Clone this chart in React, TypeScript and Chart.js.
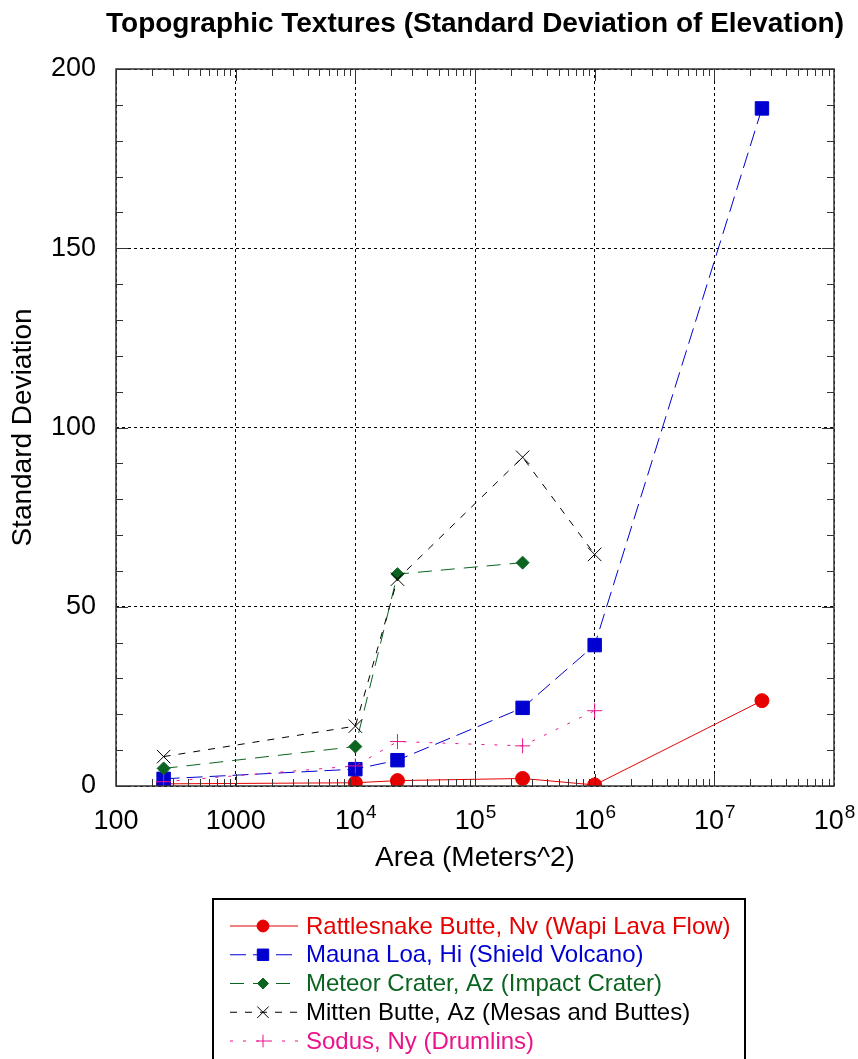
import React, { useEffect, useRef } from 'react';
import { Chart, registerables } from 'chart.js';
import { drawPoint } from 'chart.js/helpers';

Chart.register(...registerables);

const FONT = '"Liberation Sans", Arial, Helvetica, sans-serif';

// ---- data ----
const areas = [250, 1e4, 22500, 250000, 1e6, 2.5e7];
const rattlesnake = [0.6, 0.9, 1.5, 2.1, 0.3, 23.8];
const maunaLoa = [2.0, 4.7, 7.2, 21.8, 39.3, 189];
const meteorCrater = [4.9, 11.0, 59.1, 62.3, null, null];
const mittenButte = [8.2, 16.7, 57.7, 91.7, 64.6, null];
const sodus = [1.2, 5.6, 12.4, 11.2, 21.0, null];

const seriesLabels = [
  'Rattlesnake Butte, Nv (Wapi Lava Flow)',
  'Mauna Loa, Hi (Shield Volcano)',
  'Meteor Crater, Az (Impact Crater)',
  'Mitten Butte, Az (Mesas and Buttes)',
  'Sodus, Ny (Drumlins)',
];
const seriesValues = [rattlesnake, maunaLoa, meteorCrater, mittenButte, sodus];

const xTickValues = [100, 1000, 1e4, 1e5, 1e6, 1e7, 1e8];
const yTickStep = 50;
const yMinorStep = 10;

const titleText = 'Topographic Textures (Standard Deviation of Elevation)';
const xTitle = 'Area (Meters^2)';
const yTitle = 'Standard Deviation';

// ---- styles ----
const seriesStyles = [
  { color: '#e60000', dash: [], pointStyle: 'circle', radius: 7 },
  { color: '#0000d0', dash: [16, 7], pointStyle: 'rect', radius: 9.5 },
  { color: '#0b6420', dash: [14, 9], pointStyle: 'rectRot', radius: 6.5 },
  { color: '#000000', dash: [7, 8], pointStyle: 'crossRot', radius: 9.5 },
  { color: '#ec138a', dash: [3, 10], pointStyle: 'cross', radius: 7.5 },
];

const framePlugin = {
  id: 'frame',
  afterDatasetsDraw(chart: any) {
    const { ctx, chartArea: a, scales } = chart;
    const xs = scales.x;
    const ys = scales.y;
    ctx.save();
    ctx.setLineDash([]);
    ctx.strokeStyle = '#333';
    ctx.lineWidth = 1;
    ctx.beginPath();
    for (let e = 2; e < 8; e++) {
      for (let m = 1; m <= 9; m++) {
        const v = m * Math.pow(10, e);
        const px = Math.round(xs.getPixelForValue(v)) + 0.5;
        const len = m === 1 ? 12 : 7;
        ctx.moveTo(px, a.bottom);
        ctx.lineTo(px, a.bottom - len);
        ctx.moveTo(px, a.top);
        ctx.lineTo(px, a.top + len);
      }
    }
    for (let v = ys.min; v <= ys.max; v += yMinorStep) {
      const py = Math.round(ys.getPixelForValue(v)) + 0.5;
      const len = v % yTickStep === 0 ? 12 : 7;
      ctx.moveTo(a.left, py);
      ctx.lineTo(a.left + len, py);
      ctx.moveTo(a.right, py);
      ctx.lineTo(a.right - len, py);
    }
    ctx.stroke();
    ctx.lineWidth = 1.5;
    ctx.strokeRect(a.left, a.top, a.right - a.left, a.bottom - a.top);
    ctx.restore();
  },
  afterDraw(chart: any) {
    const { ctx, chartArea: a, scales } = chart;
    const xs = scales.x;
    ctx.save();
    // title
    ctx.fillStyle = '#000';
    ctx.font = `bold 28px ${FONT}`;
    ctx.textAlign = 'center';
    ctx.textBaseline = 'middle';
    ctx.fillText(titleText, (a.left + a.right) / 2, 24);

    // x tick labels with superscripts
    const baseY = a.bottom + 43;
    ctx.textBaseline = 'alphabetic';
    ctx.textAlign = 'left';
    for (const v of xTickValues) {
      const px = xs.getPixelForValue(v);
      const exp = Math.round(Math.log10(v));
      if (exp <= 3) {
        ctx.font = `27px ${FONT}`;
        const w = ctx.measureText(String(v)).width;
        ctx.fillText(String(v), px - w / 2, baseY);
      } else {
        ctx.font = `27px ${FONT}`;
        const w1 = ctx.measureText('10').width;
        ctx.font = `19px ${FONT}`;
        const sup = String(exp);
        const w2 = ctx.measureText(sup).width;
        const start = px - (w1 + w2) / 2;
        ctx.font = `27px ${FONT}`;
        ctx.fillText('10', start, baseY);
        ctx.font = `19px ${FONT}`;
        ctx.fillText(sup, start + w1 + 1, baseY - 11);
      }
    }

    // legend
    const lx = 213;
    const ly = 899;
    const lw = 532;
    ctx.strokeStyle = '#000';
    ctx.lineWidth = 2;
    ctx.setLineDash([]);
    ctx.strokeRect(lx, ly, lw, chart.height - ly + 20);
    chart.data.datasets.forEach((ds: any, i: number) => {
      const y = 926 + i * 28.75;
      const st = seriesStyles[i];
      ctx.strokeStyle = st.color;
      ctx.fillStyle = st.color;
      ctx.lineWidth = 1;
      ctx.setLineDash(st.dash);
      ctx.beginPath();
      ctx.moveTo(230, y);
      ctx.lineTo(298, y);
      ctx.stroke();
      ctx.setLineDash([]);
      drawPoint(ctx, { pointStyle: st.pointStyle, radius: st.radius * 0.85, borderWidth: 1, rotation: 0 } as any, 263, y);
      ctx.fillStyle = st.color;
      ctx.font = `24px ${FONT}`;
      ctx.textAlign = 'left';
      ctx.textBaseline = 'middle';
      ctx.fillText(ds.label, 306, y + 1);
    });
    ctx.restore();
  },
};

export default function App() {
  const ref = useRef<HTMLCanvasElement | null>(null);
  useEffect(() => {
    document.body.style.margin = '0';
    const canvas = ref.current;
    if (!canvas) return;
    Chart.defaults.color = '#000';
    const datasets = seriesValues.map((vals, i) => {
      const st = seriesStyles[i];
      const pts = areas
        .map((a, j) => ({ x: a, y: vals[j] }))
        .filter((p) => p.y !== null && p.y !== undefined);
      return {
        label: seriesLabels[i],
        data: pts,
        borderColor: st.color,
        backgroundColor: st.color,
        borderWidth: 1,
        borderDash: st.dash,
        pointStyle: st.pointStyle,
        pointRadius: st.radius,
        pointBackgroundColor: st.color,
        pointBorderColor: st.color,
        pointBorderWidth: 1,
        tension: 0,
        fill: false,
        order: seriesValues.length - 1 - i,
      };
    });
    const chart = new Chart(canvas, {
      type: 'line',
      data: { datasets },
      plugins: [framePlugin],
      options: {
        animation: false,
        responsive: false,
        devicePixelRatio: 1,
        layout: { padding: { left: 0, right: 24, top: 69, bottom: 179 } },
        plugins: {
          legend: { display: false },
          title: { display: false },
          tooltip: { enabled: false },
        },
        scales: {
          x: {
            type: 'logarithmic',
            min: 100,
            max: 1e8,
            afterBuildTicks: (scale: any) => {
              scale.ticks = xTickValues.map((v) => ({ value: v }));
            },
            afterFit: (scale: any) => {
              scale.height = 94;
            },
            ticks: { display: false },
            grid: { color: '#000', lineWidth: 1, drawTicks: false },
            border: { display: false, dash: [3, 3] },
            title: {
              display: true,
              text: xTitle,
              font: { family: FONT, size: 28 },
              color: '#000',
              padding: { top: 0, bottom: 5 },
            },
          },
          y: {
            type: 'linear',
            min: 0,
            max: 200,
            afterFit: (scale: any) => {
              scale.width = 116;
            },
            ticks: {
              stepSize: yTickStep,
              font: { family: FONT, size: 27 },
              color: '#000',
              padding: 20,
            },
            grid: { color: '#000', lineWidth: 1, drawTicks: false },
            border: { display: false, dash: [3, 3] },
            title: {
              display: true,
              text: yTitle,
              font: { family: FONT, size: 28 },
              color: '#000',
              padding: { top: 6, bottom: 0 },
            },
          },
        },
      },
    } as any);
    return () => chart.destroy();
  }, []);
  return (
    <div style={{ width: 858, height: 1059, background: '#fff' }}>
      <canvas ref={ref} width={858} height={1059} style={{ display: 'block' }} />
    </div>
  );
}
